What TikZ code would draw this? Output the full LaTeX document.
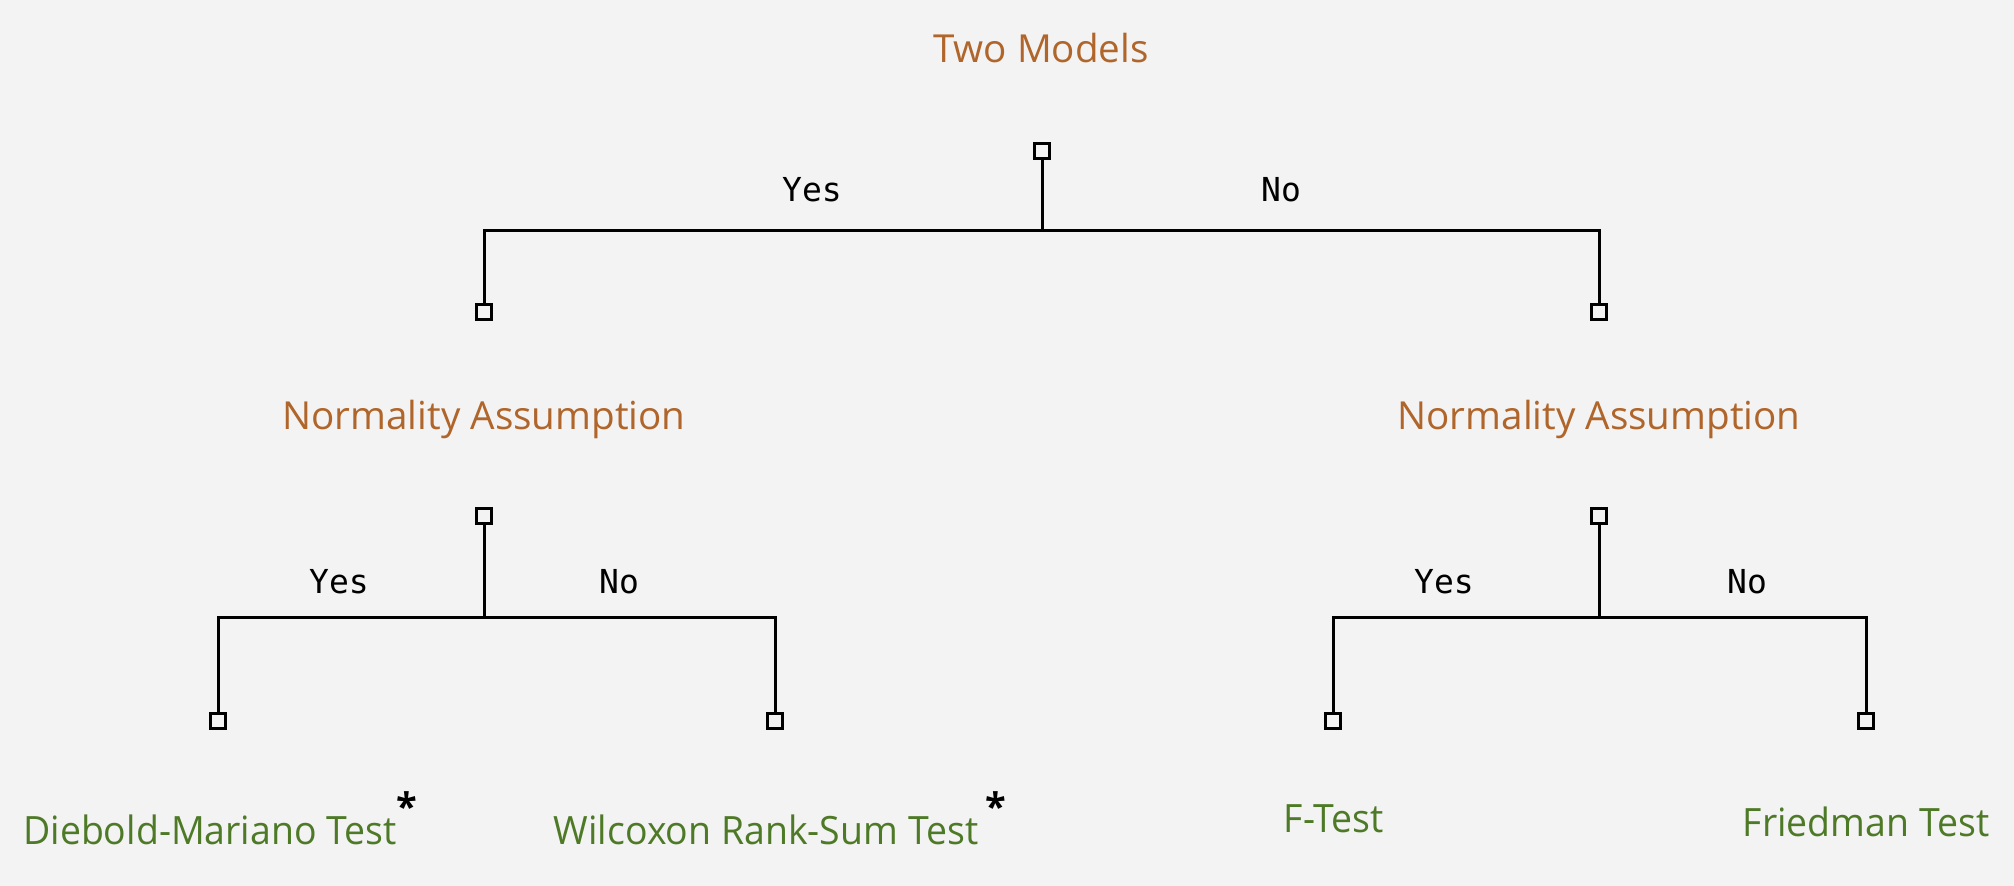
\documentclass[tikz,border=0pt]{standalone}
\usepackage{fontspec}
\setmainfont{Open Sans}
\newfontfamily\condfont[FakeStretch=0.96]{Open Sans}
\setmonofont{DejaVu Sans Mono}
\definecolor{bgcol}{HTML}{F3F3F3}
\definecolor{qcol}{HTML}{B0652A}
\definecolor{leafcol}{HTML}{4E7A27}
\tikzset{
    sq/.style={draw, fill=bgcol, line width=1.5pt, minimum size=7.8pt, inner sep=0pt},
    quest/.style={text=qcol, font=\fontsize{19.3}{22}\selectfont, anchor=base, inner sep=0pt},
    ans/.style={font=\ttfamily\fontsize{16.5}{19}\selectfont, anchor=base, inner sep=0pt},
    leaf/.style={text=leafcol, font=\condfont\fontsize{19.5}{22}\selectfont, anchor=base, inner sep=0pt},
    astx/.style={font=\bfseries\fontsize{19}{20}\selectfont, inner sep=0pt},
    edge/.style={line width=1.5pt}
}
\begin{document}
\begin{tikzpicture}[x=0.5pt,y=-0.5pt]
    \fill[bgcol] (0,0) rectangle (2014,886);
    \useasboundingbox (0,0) rectangle (2014,886);

    % questions
    \node[quest] (two) at (1041,63) {Two Models};
    \node[quest] (normL) at (484,430) {Normality Assumption};
    \node[quest] (normR) at (1599,430) {Normality Assumption};

    % decision squares
    \node[sq] (root) at (1042,151) {};
    \node[sq] (sqL) at (484,312) {};
    \node[sq] (sqR) at (1599,312) {};
    \node[sq] (sqL2) at (484,516) {};
    \node[sq] (sqR2) at (1599,516) {};
    \node[sq] (sqA) at (218,721) {};
    \node[sq] (sqB) at (775,721) {};
    \node[sq] (sqC) at (1333,721) {};
    \node[sq] (sqD) at (1866,721) {};

    % branches
    \coordinate (j0) at (1042,231);
    \coordinate (jL) at (484,618);
    \coordinate (jR) at (1599,618);
    \draw[edge] (root.south) -- (j0) -| (sqL.north);
    \draw[edge] (j0) -| (sqR.north);
    \draw[edge] (sqL2.south) -- (jL) -| (sqA.north);
    \draw[edge] (jL) -| (sqB.north);
    \draw[edge] (sqR2.south) -- (jR) -| (sqC.north);
    \draw[edge] (jR) -| (sqD.north);

    % answers
    \node[ans] (y0) at (812,202) {Yes};
    \node[ans] (n0) at (1281,202) {No};
    \node[ans] (yL) at (339,594) {Yes};
    \node[ans] (nL) at (619,594) {No};
    \node[ans] (yR) at (1444,594) {Yes};
    \node[ans] (nR) at (1747,594) {No};

    % tests
    \node[leaf] (dm) at (210,845) {Diebold-Mariano Test};
    \node[leaf] (wil) at (766,845) {Wilcoxon Rank-Sum Test};
    \node[leaf] (ft) at (1334,833) {F-Test};
    \node[leaf] (fried) at (1866,837) {Friedman Test};
    \node[astx] (astA) at (407,806) {*};
    \node[astx] (astB) at (996,806) {*};
\end{tikzpicture}
\end{document}
